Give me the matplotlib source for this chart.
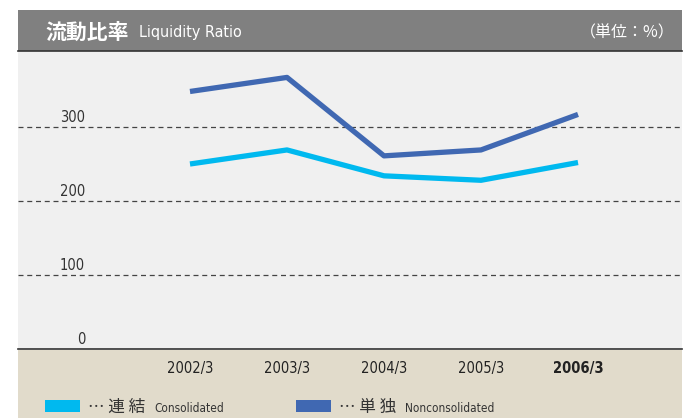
import matplotlib
matplotlib.use("Agg")
import matplotlib.pyplot as plt
import matplotlib.transforms as mtransforms
from matplotlib.patches import Rectangle

# --- data ---
years = ["2002/3", "2003/3", "2004/3", "2005/3", "2006/3"]
consolidated = [250, 269, 234, 228, 252]
nonconsolidated = [348, 367, 261, 269, 317]
y_ticks = [0, 100, 200, 300]

# --- styles ---
C_CONS = "#00b9ef"
C_NONC = "#4068b2"
BG_PLOT = "#f0f0f0"
BG_FOOT = "#e1dbcb"
HEADER = "#808080"
TXT = "#333333"
LATIN = ["DejaVu Sans"]
CJK = ["Noto Sans CJK JP", "DejaVu Sans"]

W, H = 697, 418
fig = plt.figure(figsize=(W / 100, H / 100), dpi=100)

def fx(px):
    return px / W

def fy(py):
    return 1 - py / H

# header band and footer band (behind the axes)
fig.patches.append(Rectangle((fx(18), fy(51)), fx(664), 41 / H, transform=fig.transFigure,
                             facecolor=HEADER, edgecolor="none", zorder=-2))
fig.patches.append(Rectangle((fx(18), 0), fx(664), 68 / H, transform=fig.transFigure,
                             facecolor=BG_FOOT, edgecolor="none", zorder=-2))

ax = fig.add_axes([fx(18), fy(349), fx(664), (349 - 51) / H])
ax.set_facecolor(BG_PLOT)
x = list(range(len(years)))
ax.set_xlim(-1.773, 5.072)
ax.set_ylim(0, 402.7)

for v in y_ticks[1:]:
    ax.axhline(v, color="#444444", lw=0.9, ls=(0, (4, 3)), zorder=1)

ax.plot(x, consolidated, color=C_CONS, lw=3.8, solid_capstyle="butt", zorder=3)
ax.plot(x, nonconsolidated, color=C_NONC, lw=3.8, solid_capstyle="butt", zorder=3)

for s in ["left", "right", "top"]:
    ax.spines[s].set_visible(False)
ax.spines["bottom"].set_color("#333333")
ax.spines["bottom"].set_linewidth(1.2)
ax.set_xticks([])
ax.set_yticks([])

# y labels sit inside the plot, above each gridline
trans = mtransforms.blended_transform_factory(fig.transFigure, ax.transData)
for v in y_ticks:
    ax.text(fx(85), v + 3, str(v), transform=trans, ha="right", va="bottom",
            fontsize=10.5, color=TXT, family=LATIN, fontstretch="condensed")

# x labels in the footer
tx = mtransforms.blended_transform_factory(ax.transData, fig.transFigure)
for i, lab in enumerate(years):
    bold = i == len(years) - 1
    ax.text(i, fy(368), lab, transform=tx, ha="center", va="center", fontsize=10.5,
            color="#222222", family=LATIN, fontweight="bold" if bold else "normal",
            fontstretch="condensed", clip_on=False)

# header texts
fig.text(fx(45), fy(32), "流動比率", color="white", fontsize=15, fontweight="bold",
         family=CJK, va="center", ha="left")
fig.text(fx(139), fy(33), "Liquidity Ratio", color="white", fontsize=11.5,
         family=LATIN, fontstretch="condensed", va="center", ha="left")
fig.text(fx(675), fy(33), "（単位：%）", color="white", fontsize=11.5,
         family=CJK, va="center", ha="right")
fig.lines.append(plt.Line2D([fx(18), fx(682)], [fy(51), fy(51)], transform=fig.transFigure,
                            color="#333333", lw=1.2))

# legend
legend_items = [(C_CONS, 45, "… 連 結", "Consolidated"),
                (C_NONC, 296, "… 単 独", "Nonconsolidated")]
for col, x0, jp, en in legend_items:
    fig.patches.append(Rectangle((fx(x0), fy(412)), fx(35), 12 / H, transform=fig.transFigure,
                                 facecolor=col, edgecolor="none"))
    fig.text(fx(x0 + 43), fy(407), jp, color=TXT, fontsize=12, family=CJK,
             va="center", ha="left")
    fig.text(fx(x0 + 109), fy(408), en, color=TXT, fontsize=8.5, family=LATIN,
             fontstretch="condensed", va="center", ha="left")

fig.savefig("out.png", dpi=100)
